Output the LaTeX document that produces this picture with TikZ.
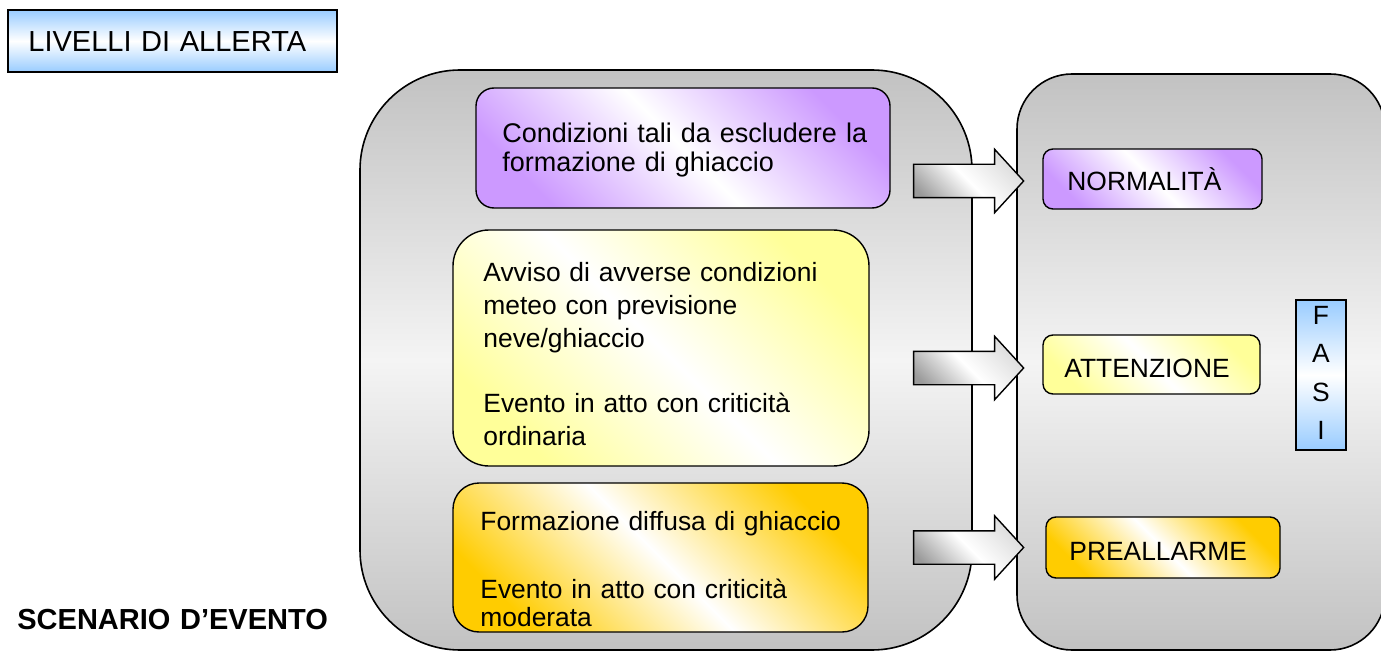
\documentclass[tikz,border=0pt]{standalone}
\usepackage{fontspec}
\setmainfont{Liberation Sans}
\usetikzlibrary{shapes.arrows}

\definecolor{panelgray}{HTML}{C2C2C2}
\definecolor{panellight}{HTML}{F4F4F4}
\definecolor{skyblue}{HTML}{99CCFF}
\definecolor{lilac}{HTML}{CC99FF}
\definecolor{paleyellow}{HTML}{FFFF99}
\definecolor{gold}{HTML}{FFCC00}
\definecolor{arrowgray}{HTML}{9A9A9A}

\tikzset{
    panel/.style={draw,line width=0.8pt,top color=panelgray,bottom color=panelgray,middle color=panellight},
    bluebox/.style={draw,line width=0.8pt,top color=skyblue,bottom color=skyblue,middle color=white,inner sep=0pt},
    levelbox/.style={draw,line width=0.7pt,inner sep=0pt,top color=#1,bottom color=#1,middle color=white,shading angle=-45},
    blockarrow/.style={single arrow,draw,line width=0.7pt,inner sep=0pt,inner ysep=8pt,
        minimum height=55pt,minimum width=31pt,single arrow head extend=7.5pt,single arrow tip angle=95,
        top color=white!65!arrowgray,bottom color=arrowgray,middle color=white,shading angle=-45},
    txt/.style={anchor=base west,align=left,inner sep=0pt,text width=210pt,font=\fontsize{13.2}{16.25}\selectfont},
}

\begin{document}
\begin{tikzpicture}[x=0.5pt,y=-0.5pt]
        \useasboundingbox (0,0) rectangle (1381,652);
        %% Titles
        \node[bluebox,minimum width=164.5pt,minimum height=31pt] (livelli) at (172.5,41) {};
        \node[txt,font=\fontsize{14.5}{17}\selectfont] (livellitxt) at (28,52) {LIVELLI DI ALLERTA};
        \node[txt,font=\bfseries\fontsize{14.5}{17}\selectfont] (scenario) at (17,629) {SCENARIO D’EVENTO};
        %% Panels
        \node[panel,rounded corners=50pt,minimum width=306pt,minimum height=290pt] (scenari) at (666,360) {};
        \node[panel,rounded corners=27.5pt,minimum width=184pt,minimum height=288pt] (fasi) at (1201,362) {};
        %% Arrows
        \node[blockarrow] (versoA) at (961,181) {};
        \node[blockarrow] (versoB) at (961,368) {};
        \node[blockarrow] (versoC) at (961,547.5) {};
        %% Scenarios
        \node[levelbox=lilac,rounded corners=9pt,minimum width=207pt,minimum height=60pt] (condizioni) at (683,148) {};
        \node[txt,font=\fontsize{13.5}{14.5}\selectfont] (condizionitxt) at (502,143)
            {Condizioni tali da escludere la\\formazione di ghiaccio};
        \node[levelbox=paleyellow,rounded corners=18pt,minimum width=208pt,minimum height=118pt] (avviso) at (661,348) {};
        \node[txt] (avvisotxt) at (483,282)
            {Avviso di avverse condizioni\\meteo con previsione\\neve/ghiaccio\\[16.75pt]Evento in atto con criticità\\ordinaria};
        \node[levelbox=gold,rounded corners=13pt,minimum width=207.5pt,minimum height=74.5pt] (formazione) at (660.5,557.5) {};
        \node[txt,font=\fontsize{13.2}{14}\selectfont] (formazionetxt) at (480,530)
            {Formazione diffusa di ghiaccio\\[20pt]Evento in atto con criticità\\moderata};
        %% Phases
        \node[levelbox=lilac,rounded corners=5pt,minimum width=109.5pt,minimum height=30pt] (normalita) at (1152.5,179) {};
        \node[txt] (normalitatxt) at (1067,191) {NORMALITÀ};
        \node[levelbox=paleyellow,rounded corners=5pt,minimum width=108.5pt,minimum height=29.5pt] (attenzione) at (1151.5,364.5) {};
        \node[txt] (attenzionetxt) at (1064,377) {ATTENZIONE};
        \node[levelbox=gold,rounded corners=5pt,minimum width=117pt,minimum height=30.5pt] (preallarme) at (1163,547.5) {};
        \node[txt] (preallarmetxt) at (1069,560) {PREALLARME};
        \node[bluebox,minimum width=25pt,minimum height=75pt] (fasibox) at (1321,375) {};
        \node[txt,anchor=base,align=center,text width=20pt,font=\fontsize{13.2}{19.25}\selectfont] (fasitxt) at (1321,324) {F\\A\\S\\I};
\end{tikzpicture}
\end{document}
